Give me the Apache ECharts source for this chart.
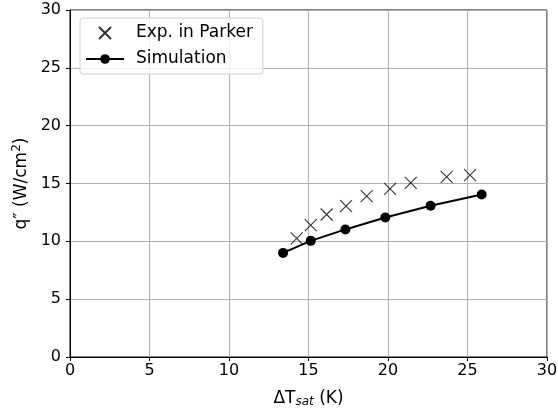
<!DOCTYPE html>
<html><head><meta charset="utf-8">
<script src="https://cdn.jsdelivr.net/npm/echarts@6/dist/echarts.min.js"></script>
<style>html,body{margin:0;padding:0;background:#fff}#c{width:558px;height:412px}</style>
</head><body><div id="c"></div>
<script>
const xTicks = [0, 5, 10, 15, 20, 25, 30];
const yTicks = [0, 5, 10, 15, 20, 25, 30];
const expX = [14.26, 15.14, 16.14, 17.36, 18.66, 20.13, 21.43, 23.69, 25.16];
const expY = [10.25, 11.4, 12.32, 13.04, 13.9, 14.53, 15.05, 15.57, 15.72];
const simX = [13.4, 15.14, 17.32, 19.83, 22.68, 25.89];
const simY = [9.0, 10.04, 11.03, 12.06, 13.07, 14.05];

const font = 'DejaVu Sans';
const chart = echarts.init(document.getElementById('c'), null, {renderer: 'canvas'});
const cross = 'path://M0,0L10,10M10,0L0,10';
chart.setOption({
  animation: false,
  grid: {left: 70, right: 11, top: 10, bottom: 55, outerBoundsMode: 'none', containLabel: false, show: true, borderColor: '#000', borderWidth: 1, backgroundColor: 'transparent'},
  legend: {
    left: 80, top: 18, orient: 'vertical', itemGap: 6, itemWidth: 38, itemHeight: 12,
    padding: [5, 10, 5, 5],
    backgroundColor: 'rgba(255,255,255,0.8)', borderColor: '#d0d0d0', borderWidth: 1, borderRadius: 3,
    textStyle: {fontFamily: font, fontSize: 17, lineHeight: 20, color: '#000', padding: [0, 0, 0, 7]},
    data: [{name: 'Exp. in Parker'}, {name: 'Simulation'}]
  },
  xAxis: {
    type: 'value', min: 0, max: 30, interval: 5,
    name: '{a|ΔT}{s|sat}{a| (K)}', nameLocation: 'middle', nameGap: 32,
    nameTextStyle: {rich: {a: {fontFamily: font, fontSize: 17, color: '#000'}, s: {fontFamily: font, fontSize: 12, fontStyle: 'italic', color: '#000', verticalAlign: 'bottom', padding: [7, 0, 0, 0]}}},
    axisLine: {lineStyle: {color: '#000'}},
    axisTick: {show: true, length: 4, inside: false, lineStyle: {color: '#000'}},
    axisLabel: {fontFamily: font, fontSize: 16, color: '#000', margin: 6, formatter: v => xTicks.includes(v) ? String(v) : ''},
    splitLine: {show: true, lineStyle: {color: '#b0b0b0', width: 1}}
  },
  yAxis: {
    type: 'value', min: 0, max: 30, interval: 5,
    name: '{a|q″ (W/cm}{s|2}{a|)}', nameLocation: 'middle', nameGap: 37, nameRotate: 90,
    nameTextStyle: {rich: {a: {fontFamily: font, fontSize: 17, color: '#000'}, s: {fontFamily: font, fontSize: 12, color: '#000', verticalAlign: 'top', padding: [0, 0, 9, 0]}}},
    axisLine: {lineStyle: {color: '#000'}},
    axisTick: {show: true, length: 4, inside: false, lineStyle: {color: '#000'}},
    axisLabel: {fontFamily: font, fontSize: 16, color: '#000', margin: 9, formatter: v => yTicks.includes(v) ? String(v) : ''},
    splitLine: {show: true, lineStyle: {color: '#b0b0b0', width: 1}}
  },
  series: [
    {
      name: 'Exp. in Parker', type: 'scatter', symbol: cross, symbolSize: 12,
      itemStyle: {color: 'transparent', borderColor: '#000', borderWidth: 1.1},
      data: expX.map((x, i) => [x, expY[i]]), z: 3
    },
    {
      name: 'Simulation', type: 'line', symbol: 'circle', symbolSize: 10, showSymbol: true,
      lineStyle: {color: '#000', width: 2}, itemStyle: {color: '#000', borderWidth: 0},
      data: simX.map((x, i) => [x, simY[i]]), z: 4
    }
  ]
});
</script></body></html>
